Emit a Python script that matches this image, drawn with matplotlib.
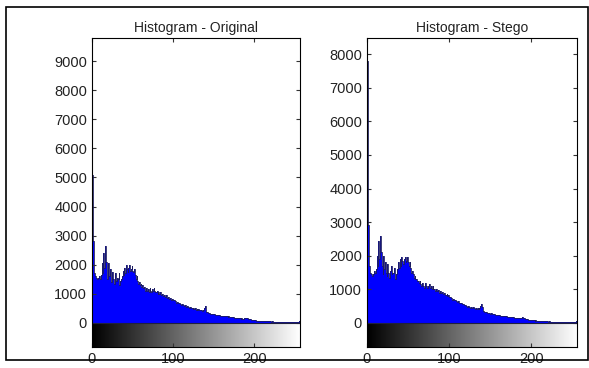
import numpy as np
import matplotlib
matplotlib.use("Agg")
import matplotlib.pyplot as plt
from matplotlib.patches import Rectangle

# histogram counts, one per grey level 0..255
original_counts = [
    5100, 2800, 2600, 1700, 1600, 1550, 1500, 1500, 1550, 1600, 1500, 1650, 2050, 1700, 2400, 1900,
    2650, 2100, 1700, 1500, 2050, 1600, 1850, 1500, 1400, 1750, 1500, 1350, 1600, 1700, 1450, 1550,
    1500, 1700, 1300, 1450, 1500, 1600, 1800, 1650, 1900, 1700, 2000, 1850, 1750, 1900, 2000, 1800,
    1850, 1950, 1800, 1750, 1850, 1650, 1500, 1600, 1450, 1350, 1400, 1300, 1350, 1250, 1300, 1200,
    1250, 1150, 1100, 1200, 1100, 1150, 1050, 1200, 1100, 1050, 1150, 1100, 1200, 1100, 1050, 1050,
    1100, 1000, 1050, 980, 1050, 960, 980, 1000, 920, 960, 900, 950, 880, 860, 900, 830,
    850, 860, 800, 830, 780, 790, 760, 740, 700, 730, 680, 690, 670, 660, 620, 650,
    610, 600, 590, 600, 560, 570, 540, 550, 510, 530, 500, 510, 490, 500, 470, 500,
    460, 480, 450, 470, 440, 460, 430, 450, 420, 460, 520, 580, 500, 380, 360, 350,
    340, 330, 320, 310, 310, 300, 290, 300, 280, 280, 270, 270, 260, 260, 250, 250,
    240, 240, 230, 230, 220, 230, 220, 210, 220, 210, 200, 200, 190, 200, 190, 180,
    180, 170, 180, 170, 160, 170, 160, 150, 160, 150, 150, 160, 170, 180, 170, 160,
    150, 140, 130, 120, 110, 100, 100, 90, 90, 85, 80, 80, 75, 80, 75, 70,
    70, 65, 70, 65, 60, 60, 55, 60, 55, 50, 55, 50, 50, 45, 50, 45,
    45, 40, 45, 40, 40, 35, 40, 35, 35, 30, 35, 30, 30, 30, 30, 25,
    25, 25, 30, 25, 25, 20, 25, 20, 25, 20, 20, 25, 25, 30, 40, 60,
]

stego_counts = [
    7800, 2900, 1800, 1700, 1500, 1450, 1400, 1450, 1500, 1550, 1500, 1600, 2000, 1700, 2450, 1900,
    2600, 2100, 1700, 1450, 2000, 1600, 1800, 1500, 1400, 1750, 1500, 1350, 1550, 1700, 1450, 1500,
    1500, 1650, 1300, 1450, 1500, 1600, 1800, 1650, 1900, 1700, 1950, 1850, 1750, 1900, 1950, 1800,
    1850, 1950, 1800, 1700, 1800, 1650, 1500, 1550, 1450, 1350, 1400, 1300, 1300, 1250, 1250, 1200,
    1250, 1150, 1100, 1200, 1100, 1100, 1050, 1200, 1100, 1050, 1100, 1100, 1150, 1050, 1100, 1000,
    1100, 1000, 1000, 950, 1000, 940, 960, 980, 900, 940, 880, 930, 860, 850, 880, 820,
    840, 850, 790, 820, 770, 780, 740, 730, 690, 720, 670, 680, 660, 650, 610, 640,
    600, 590, 580, 590, 550, 560, 530, 540, 500, 520, 490, 500, 480, 490, 460, 490,
    450, 470, 440, 460, 430, 450, 420, 440, 410, 450, 500, 560, 480, 370, 350, 340,
    330, 320, 310, 300, 300, 290, 280, 290, 270, 270, 260, 260, 250, 250, 240, 240,
    230, 230, 220, 220, 210, 220, 210, 200, 210, 200, 190, 190, 180, 190, 180, 170,
    170, 165, 170, 160, 155, 160, 155, 145, 150, 145, 145, 150, 160, 170, 160, 150,
    140, 130, 120, 110, 100, 95, 90, 85, 85, 80, 75, 75, 70, 75, 70, 65,
    65, 60, 65, 60, 55, 55, 50, 55, 50, 45, 50, 45, 45, 40, 45, 40,
    40, 40, 40, 35, 35, 35, 35, 30, 30, 30, 30, 30, 30, 25, 25, 25,
    25, 25, 25, 20, 25, 20, 20, 20, 20, 20, 20, 20, 25, 25, 30, 50,
]

titles = ["Histogram - Original", "Histogram - Stego"]
y_limits = [(-830, 9800), (-715, 8480)]
y_ticks = [np.arange(0, 9001, 1000), np.arange(0, 8001, 1000)]
x_ticks = [0, 100, 200]

plt.rcParams['font.family'] = ['Liberation Sans', 'DejaVu Sans']

fig = plt.figure(figsize=(5.89, 3.68), dpi=100)
fig.patches.append(Rectangle((6 / 589, 8 / 368), 582 / 589, 353 / 368,
                             transform=fig.transFigure, fill=False,
                             edgecolor='black', linewidth=1.2))

positions = [[0.156, 0.057, 0.353, 0.840], [0.623, 0.057, 0.357, 0.840]]
grey = np.linspace(0, 1, 256).reshape(1, -1)

for pos, counts, title, ylim, yt in zip(positions, [original_counts, stego_counts],
                                         titles, y_limits, y_ticks):
    ax = fig.add_axes(pos)
    levels = np.arange(len(counts))
    ax.bar(levels, counts, width=1.0, align='edge', color='#0000ff', linewidth=0)
    ax.step(np.append(levels, 256), np.append(counts, counts[-1]), where='post',
            color='#1c1c60', linewidth=0.6)
    # grey level strip under the histogram
    ax.imshow(grey, cmap='gray', aspect='auto', extent=[0, 256, ylim[0], 0],
              interpolation='bilinear')
    ax.axhline(0, color='#202040', linewidth=0.8)
    ax.set_xlim(0, 256)
    ax.set_ylim(*ylim)
    ax.set_xticks(x_ticks)
    ax.set_yticks(yt)
    ax.tick_params(direction='in', top=True, right=True, length=3,
                   labelsize=10.5, colors='#333333', labelcolor='#222222')
    ax.set_title(title, fontsize=10, color='#222222', pad=4)
    for s in ax.spines.values():
        s.set_linewidth(0.8)

fig.savefig('out.png', dpi=100)
